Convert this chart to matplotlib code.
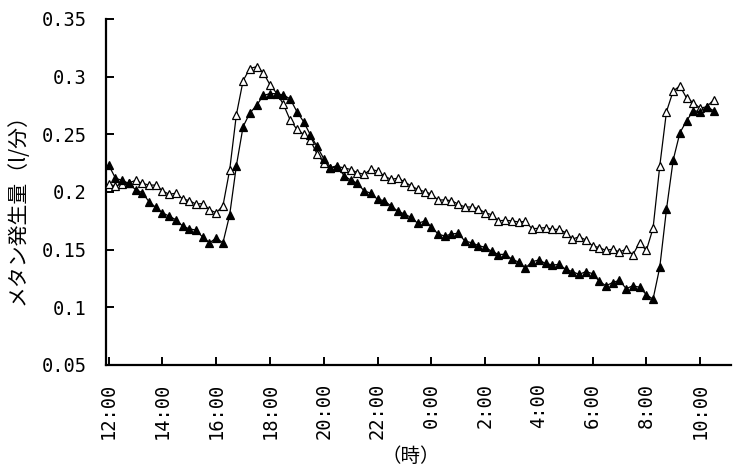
import matplotlib
matplotlib.use("Agg")
import matplotlib.pyplot as plt
import numpy as np

# 15-minute readings starting at 12:00
open_vals = [0.207, 0.205, 0.207, 0.208, 0.210, 0.2075, 0.206, 0.206, 0.201, 0.198,
             0.199, 0.194, 0.1925, 0.1895, 0.190, 0.1845, 0.182, 0.188, 0.219, 0.267,
             0.2965, 0.307, 0.3087, 0.3035, 0.293, 0.2856, 0.276, 0.2624, 0.2544, 0.250,
             0.245, 0.233, 0.2254, 0.2205, 0.222, 0.221, 0.2195, 0.2168, 0.2153, 0.2197,
             0.2182, 0.2139, 0.211, 0.2119, 0.209, 0.2052, 0.2023, 0.2003, 0.1983, 0.1931,
             0.1931, 0.1925, 0.1895, 0.187, 0.187, 0.1855, 0.182, 0.1803, 0.175, 0.1755,
             0.175, 0.174, 0.1745, 0.1682, 0.1685, 0.1692, 0.1676, 0.1676, 0.1648, 0.1591,
             0.1612, 0.1584, 0.1533, 0.1518, 0.1493, 0.1505, 0.148, 0.1505, 0.1457, 0.156,
             0.1493, 0.1685, 0.2225, 0.2697, 0.2876, 0.292, 0.2813, 0.2775, 0.2726, 0.274,
             0.2798]

filled_vals = [0.2234, 0.212, 0.210, 0.2075, 0.202, 0.1995, 0.1916, 0.1867, 0.182, 0.179,
               0.176, 0.1705, 0.168, 0.167, 0.1607, 0.156, 0.160, 0.156, 0.180, 0.2228,
               0.2567, 0.2684, 0.275, 0.2837, 0.2853, 0.2853, 0.284, 0.2808, 0.2697, 0.261,
               0.2496, 0.2395, 0.229, 0.2212, 0.2228, 0.2143, 0.2104, 0.2075, 0.2011, 0.1989,
               0.1937, 0.1925, 0.1879, 0.1835, 0.1809, 0.178, 0.1728, 0.1748, 0.1699, 0.1636,
               0.1618, 0.1636, 0.1642, 0.1575, 0.156, 0.1536, 0.152, 0.1486, 0.1458, 0.146,
               0.1418, 0.1392, 0.134, 0.1396, 0.141, 0.1381, 0.1367, 0.1372, 0.133, 0.131,
               0.1285, 0.131, 0.1292, 0.1226, 0.1187, 0.1215, 0.1234, 0.1162, 0.1187, 0.1174,
               0.111, 0.1071, 0.1347, 0.185, 0.2278, 0.2514, 0.2618, 0.2705, 0.2697, 0.274,
               0.2705]

tick_labels = ["12:00", "14:00", "16:00", "18:00", "20:00", "22:00",
               "0:00", "2:00", "4:00", "6:00", "8:00", "10:00"]
y_ticks = [0.05, 0.1, 0.15, 0.2, 0.25, 0.3, 0.35]
y_tick_labels = ["0.05", "0.1", "0.15", "0.2", "0.25", "0.3", "0.35"]

hours = np.arange(len(open_vals)) * 0.25
tick_pos = np.arange(len(tick_labels)) * 2

fig = plt.figure(figsize=(7.33, 4.75), dpi=100)
ax = fig.add_axes([106/733, 1-365/475, (731-106)/733, (365-19)/475])

ax.plot(hours, open_vals, color="black", lw=0.9, marker="^", ms=5.8,
        mfc="white", mec="black", mew=0.9, zorder=3)
ax.plot(hours, filled_vals, color="black", lw=0.9, marker="^", ms=5.8,
        mfc="black", mec="black", mew=0.9, zorder=4)

ax.set_xlim(-0.1, 23.15)
ax.set_ylim(0.05, 0.35)
ax.set_xticks(tick_pos)
ax.set_xticklabels(tick_labels, rotation=90, family="DejaVu Sans Mono", fontsize=13.5)
ax.set_yticks(y_ticks)
ax.set_yticklabels(y_tick_labels, family="DejaVu Sans Mono", fontsize=13.5)

for s in ["top", "right"]:
    ax.spines[s].set_visible(False)
for s in ["left", "bottom"]:
    ax.spines[s].set_linewidth(1.6)
ax.tick_params(axis="both", direction="in", length=6, width=1.4, colors="black")
ax.tick_params(axis="x", pad=13)
ax.tick_params(axis="y", pad=14)

fig.text(18/733, 1-204/475, "メタン発生量（l/分）", rotation=90, ha="center", va="center",
         family=["Noto Sans CJK JP", "DejaVu Sans"], fontsize=15)
fig.text(411/733, 1-456/475, "（時）", ha="center", va="center",
         family=["Noto Sans CJK JP", "DejaVu Sans"], fontsize=14)

fig.savefig("out.png", dpi=100)
